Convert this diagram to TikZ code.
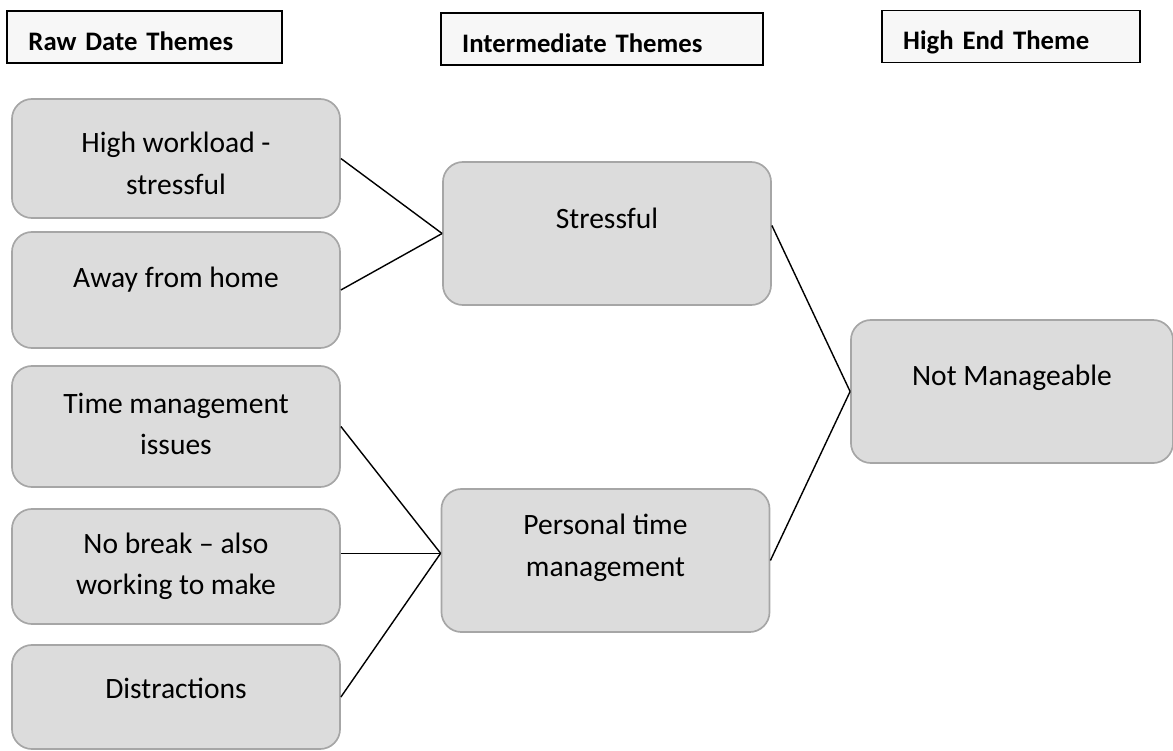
\documentclass[tikz,border=0pt]{standalone}
\usepackage{fontspec}
\setmainfont{Carlito}
\usepackage{tikz}
\usetikzlibrary{positioning}
\definecolor{themegray}{RGB}{220,220,220}
\definecolor{themeedge}{RGB}{166,166,166}
\definecolor{hdrfill}{RGB}{247,247,247}

\begin{document}
\begin{tikzpicture}[
    x=0.025cm, y=-0.025cm,
    % --- header boxes ---
    hdr/.style={draw=black, fill=hdrfill, line width=1.4pt, minimum height=1.3cm,
                align=left, inner xsep=0.53cm, text height=0.75cm, text depth=0.08cm,
                font=\fontsize{19}{23}\selectfont\bfseries},
    % --- theme boxes ---
    theme/.style={draw=themeedge, fill=themegray, line width=1.2pt,
                  rounded corners=0.5cm, minimum width=8.2cm},
    % --- text inside theme boxes ---
    txt/.style={align=center, font=\fontsize{21}{29.5}\selectfont, inner sep=0pt},
    % --- connector style ---
    link/.style={line width=1pt},
]

%% page frame (pixels of the reference)
\useasboundingbox (0,0) rectangle (1173,751);

%% ---- COLUMN HEADERS ----
\node[hdr, text width=5.80cm] (hraw) at (144.5,37)  {Raw Date Themes};
\node[hdr, text width=6.99cm] (hint) at (602,39)    {Intermediate Themes};
\node[hdr, text width=5.39cm] (hend) at (1011,36.5) {High End Theme};

%% ---- RAW DATA THEMES ----
\node[theme, minimum height=2.975cm,
      label={[txt, yshift=-0.12cm]center:{High workload -\\stressful}}] (hw) at (176,158.5) {};
\node[theme, minimum height=2.9cm,
      label={[txt, yshift=0.25cm]center:{Away from home}}] (afh) at (176,290) {};
\node[theme, minimum height=3.025cm,
      label={[txt, yshift=0.06cm]center:{Time management\\issues}}] (tmi) at (176,426.5) {};
\node[theme, minimum height=2.875cm,
      label={[txt]center:{No break -- also\\working to make}}] (nb) at (176,566.5) {};
\node[theme, minimum height=2.6cm,
      label={[txt, yshift=0.22cm]center:{Distractions}}] (dis) at (176,697) {};

%% ---- INTERMEDIATE THEMES ----
\node[theme, minimum height=3.575cm,
      label={[txt, yshift=0.39cm]center:{Stressful}}] (st) at (607,233.5) {};
\node[theme, minimum height=3.575cm,
      label={[txt, yshift=0.32cm]center:{Personal time\\management}}] (ptm) at (605.5,560.5) {};

%% ---- HIGH END THEME ----
\node[theme, minimum width=8.05cm, minimum height=3.575cm,
      label={[txt, yshift=0.34cm]center:{Not Manageable}}] (nm) at (1012,391.5) {};

%% ---- CONNECTORS ----
\coordinate (pj) at ([yshift=0.18cm]ptm.west);
\draw[link] (hw.east) -- (st.west);
\draw[link] (afh.east) -- (st.west);
\draw[link] (tmi.east) -- (pj);
\draw[link] (nb.east |- pj) -- (pj);
\draw[link] (dis.east) -- (pj);
\draw[link] ([yshift=0.2cm]st.east) -- (nm.west);
\draw[link] (ptm.east) -- (nm.west);

\end{tikzpicture}
\end{document}
